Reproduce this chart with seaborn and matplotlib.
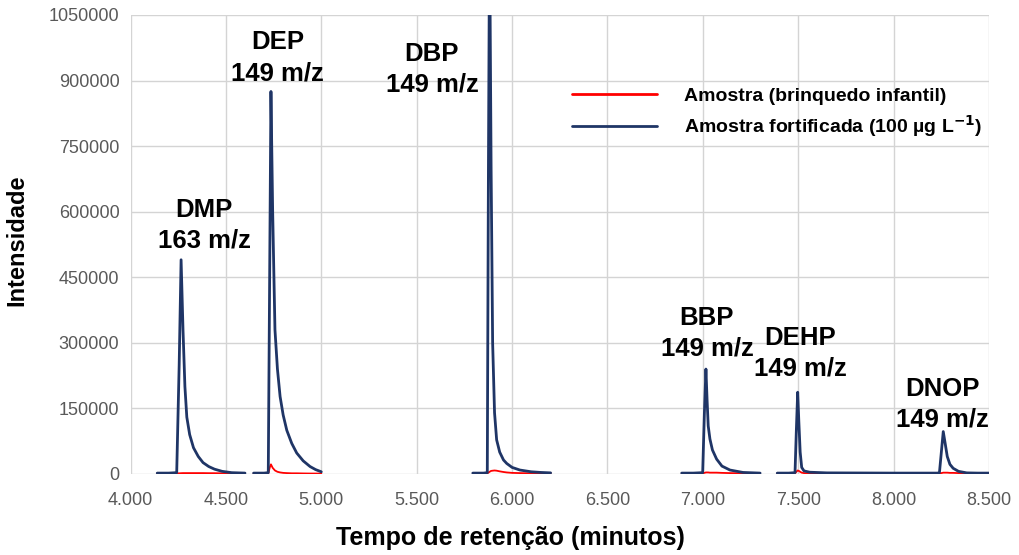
"""
Cromatograma (GC-MS, SIM) - amostra de brinquedo infantil vs. amostra fortificada.
"""
import numpy as np
import pandas as pd
import matplotlib
matplotlib.use("Agg")
import matplotlib.pyplot as plt
import seaborn as sns

sns.set_theme(style="white")
plt.rcParams['font.family'] = ['Liberation Sans', 'DejaVu Sans']

# --- dados lidos do cromatograma (tempo em min, intensidade em contagens) ---
# janela DMP
t_dmp = [4.140, 4.200, 4.242, 4.255, 4.265, 4.275, 4.285, 4.295, 4.310, 4.330,
         4.355, 4.380, 4.410, 4.440, 4.480, 4.530, 4.600]
fort_dmp = [2000, 2000, 3000, 250000, 490000, 330000, 200000, 130000, 90000, 60000,
            40000, 26000, 17000, 11000, 6000, 3000, 2000]
amos_dmp = [1500, 1500, 1500, 1500, 1800, 2000, 2000, 2000, 2000, 2000,
            2000, 2000, 1800, 1800, 1500, 1500, 1500]

# janela DEP
t_dep = [4.645, 4.700, 4.722, 4.730, 4.736, 4.745, 4.757, 4.770, 4.784, 4.800,
         4.819, 4.845, 4.871, 4.905, 4.941, 4.970, 5.000]
fort_dep = [2000, 2000, 3000, 500000, 875000, 600000, 330000, 240000, 177000, 135000,
            100000, 70000, 48000, 30000, 17000, 10000, 5000]
amos_dep = [1000, 1000, 1500, 15000, 22000, 14000, 8000, 5000, 3500, 2500,
            2000, 1500, 1500, 1200, 1000, 1000, 1000]

# janela DBP
t_dbp = [5.794, 5.850, 5.870, 5.876, 5.882, 5.890, 5.898, 5.908, 5.919, 5.935,
         5.955, 5.972, 6.000, 6.041, 6.100, 6.150, 6.202]
fort_dbp = [2000, 2000, 3000, 700000, 1250000, 700000, 300000, 140000, 78000, 50000,
            32000, 24000, 15000, 9000, 5000, 3500, 2500]
amos_dbp = [1500, 1500, 1500, 3000, 5000, 7000, 7500, 8000, 7500, 6000,
            4500, 3500, 2500, 2000, 1500, 1500, 1500]

# janela BBP
t_bbp = [6.889, 6.950, 6.999, 7.008, 7.016, 7.022, 7.028, 7.037, 7.050, 7.072,
         7.100, 7.142, 7.210, 7.300]
fort_bbp = [2000, 2000, 3000, 140000, 240000, 170000, 110000, 80000, 55000, 34000,
            18000, 9000, 3500, 2000]
amos_bbp = [1500, 1500, 1500, 2500, 3500, 3500, 3500, 3000, 3000, 3000,
            2500, 2000, 1500, 1500]

# janela DEHP + DNOP
t_dehp = [7.390, 7.450, 7.483, 7.490, 7.497, 7.503, 7.510, 7.518, 7.530, 7.560,
          7.650, 8.000, 8.230, 8.240, 8.250, 8.260, 8.270, 8.281, 8.295, 8.312,
          8.340, 8.383, 8.440, 8.500]
fort_dehp = [2000, 2000, 3000, 100000, 187000, 120000, 50000, 15000, 7000, 4000,
             2500, 2000, 2000, 3000, 50000, 97000, 70000, 40000, 22000, 13000,
             6000, 2500, 2000, 2000]
amos_dehp = [1500, 1500, 1500, 5000, 8000, 7000, 5000, 3000, 2000, 1500,
             1500, 1500, 1500, 1500, 2000, 3000, 3000, 3000, 2500, 2500,
             2000, 1500, 1500, 1500]

series_names = ["Amostra (brinquedo infantil)",
                r"Amostra fortificada (100 µg L$^{\mathbf{-1}}$)"]

peak_labels = ["DMP\n163 m/z", "DEP\n149 m/z", "DBP\n149 m/z",
               "BBP\n149 m/z", "DEHP\n149 m/z", "DNOP\n149 m/z"]
label_t = [4.385, 4.771, 5.580, 7.021, 7.509, 8.258]
label_i = [569000, 952000, 925000, 322000, 276000, 160000]

xticks = [4.0, 4.5, 5.0, 5.5, 6.0, 6.5, 7.0, 7.5, 8.0, 8.5]
yticks = [0, 150000, 300000, 450000, 600000, 750000, 900000, 1050000]

# --- tabela longa ---
janelas = [(t_dmp, amos_dmp, fort_dmp), (t_dep, amos_dep, fort_dep),
           (t_dbp, amos_dbp, fort_dbp), (t_bbp, amos_bbp, fort_bbp),
           (t_dehp, amos_dehp, fort_dehp)]
rows = []
for k, (t, a, f) in enumerate(janelas):
    for ti, ai, fi in zip(t, a, f):
        rows.append((ti, ai, series_names[0], k))
        rows.append((ti, fi, series_names[1], k))
df = pd.DataFrame(rows, columns=["tempo", "intensidade", "serie", "janela"])

fig = plt.figure(figsize=(10.19, 5.55), dpi=100)
ax = fig.add_axes([0.1281, 0.146, 0.8425, 0.827])

cores = {series_names[0]: "#FF0000", series_names[1]: "#1F3566"}
sns.lineplot(data=df[df.serie == series_names[0]], x="tempo", y="intensidade",
             hue="serie", units="janela", estimator=None, palette=cores,
             lw=1.3, ax=ax, zorder=2, sort=False)
sns.lineplot(data=df[df.serie == series_names[1]], x="tempo", y="intensidade",
             hue="serie", units="janela", estimator=None, palette=cores,
             lw=2.0, ax=ax, zorder=3, sort=False)

for lab, tx, iy in zip(peak_labels, label_t, label_i):
    ax.text(tx, iy, lab, ha="center", va="center", multialignment="center",
            fontsize=18.5, fontweight="bold", color="black", linespacing=1.35,
            zorder=5)

ax.set_xlim(4.0, 8.5)
ax.set_ylim(0, 1050000)
ax.set_xticks(xticks)
ax.set_xticklabels([f"{v:.3f}" for v in xticks])
ax.set_yticks(yticks)
ax.set_yticklabels([str(v) for v in yticks])
ax.tick_params(axis="both", length=0, labelsize=13, labelcolor="#595959")
ax.tick_params(axis="x", pad=13)
ax.tick_params(axis="y", pad=8)
ax.grid(True, color="#D4D4D4", lw=1.0)
ax.set_axisbelow(True)
for s in ax.spines.values():
    s.set_visible(False)

ax.set_xlabel("Tempo de retenção (minutos)", fontsize=18, fontweight="bold",
              color="black")
ax.set_ylabel("Intensidade", fontsize=17, fontweight="bold", color="black")
ax.xaxis.set_label_coords(0.442, -0.113)
ax.yaxis.set_label_coords(-0.119, 0.51)

handles, labels = ax.get_legend_handles_labels()
handles = [handles[0], handles[1]]
for h in handles:
    h.set_linewidth(2.0)
leg = ax.legend(handles, series_names, loc="center left",
                bbox_to_anchor=(0.514, 0.786), frameon=False, borderpad=0,
                borderaxespad=0, handlelength=4.4, handletextpad=1.35,
                labelspacing=0.4, prop={"weight": "bold", "size": 14})
for t in leg.get_texts():
    t.set_color("black")

fig.savefig("out.png", dpi=100)
